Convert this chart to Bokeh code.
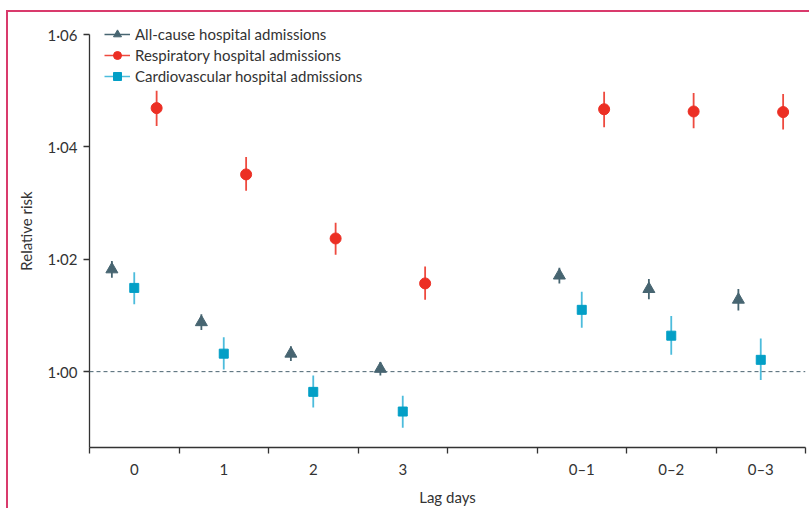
from bokeh.plotting import figure
from bokeh.models import (FixedTicker, CustomJSTickFormatter, Span, Legend, LegendItem, Range1d)
from bokeh.embed import file_html
from bokeh.resources import INLINE

# ---- data ----
lag_labels = ["0", "1", "2", "3", "0\u20131", "0\u20132", "0\u20133"]
lag_slots = [0, 1, 2, 3, 5, 6, 7]          # slot 4 is the empty gap

allcause_rr = [1.0182, 1.0088, 1.0032, 1.0005, 1.0171, 1.0147, 1.0128]
allcause_lo = [1.0167, 1.0074, 1.0019, 0.9993, 1.0157, 1.0129, 1.0109]
allcause_hi = [1.0197, 1.0102, 1.0045, 1.0017, 1.0185, 1.0165, 1.0147]

resp_rr = [1.0469, 1.0351, 1.0237, 1.0157, 1.0467, 1.0463, 1.0462]
resp_lo = [1.0437, 1.0322, 1.0208, 1.0128, 1.0435, 1.0433, 1.0431]
resp_hi = [1.0500, 1.0382, 1.0265, 1.0187, 1.0498, 1.0496, 1.0494]

cardio_rr = [1.0149, 1.0032, 0.9964, 0.9929, 1.0110, 1.0064, 1.0021]
cardio_lo = [1.0120, 1.0004, 0.9936, 0.9900, 1.0078, 1.0030, 0.9985]
cardio_hi = [1.0177, 1.0061, 0.9993, 0.9957, 1.0142, 1.0099, 1.0059]

y_ticks = [1.00, 1.02, 1.04, 1.06]
y_axis_bounds = (0.9865, 1.06)
y_view = (0.9865, 1.06356)   # a little headroom so the legend is not clipped

FONT = "Lato"
FS = "15px"
TXT = "#333333"
C_ALL = "#476571"
C_RESP = "#ec2f24"
C_RESP_L = "#ee4a3f"
C_CARD = "#039fc6"
C_CARD_L = "#4cbcdc"
PINK = "#d93a6c"

p = figure(width=809, height=508, output_backend="svg", toolbar_location=None,
           x_range=Range1d(0, 8), y_range=Range1d(*y_view),
           min_border_left=89, min_border_right=4, min_border_top=14, min_border_bottom=61)
p.outline_line_color = None
p.xgrid.visible = False
p.ygrid.visible = False
p.border_fill_color = None
p.background_fill_color = "white"
# pink page rule along top and left: two stacked inset shadows (white mask over pink)
p.styles = {
    "background-color": "white",
    "box-shadow": f"inset 6px 10px 0 0 white, inset 8px 12px 0 0 {PINK}",
}

centers = [s + 0.5 for s in lag_slots]

def series(offset, rr, lo, hi, marker, size, col, line_col):
    xs = [c + offset for c in centers]
    p.segment(x0=xs, y0=lo, x1=xs, y1=hi, line_color=line_col, line_width=1.8)
    return p.scatter(xs, rr, marker=marker, size=size, fill_color=col, line_color=col)

# reference line
p.add_layout(Span(location=1.0, dimension="width", line_color="#4a6470",
                  line_dash="4 3", line_width=1))

series(-0.25, allcause_rr, allcause_lo, allcause_hi, "triangle", 12, C_ALL, C_ALL)
series(0.0, cardio_rr, cardio_lo, cardio_hi, "square", 9, C_CARD, C_CARD_L)
series(0.25, resp_rr, resp_lo, resp_hi, "circle", 11, C_RESP, C_RESP_L)

# legend proxies (single points placed outside the visible range)
items = []
for lab, mk, sz, col, lcol in [("All-cause hospital admissions", "triangle", 12, C_ALL, C_ALL),
                               ("Respiratory hospital admissions", "circle", 11, C_RESP, C_RESP_L),
                               ("Cardiovascular hospital admissions", "square", 9, C_CARD, C_CARD_L)]:
    lr = p.line(x=[-10, -9], y=[0, 0], line_color=lcol, line_width=1.5)
    sr = p.scatter(x=[-10], y=[0], marker=mk, size=sz, fill_color=col, line_color=col)
    items.append(LegendItem(label=lab, renderers=[lr, sr]))

legend = Legend(items=items, location=(15, 361), padding=0, margin=0,
                spacing=1, label_height=20, glyph_height=20, glyph_width=26,
                label_standoff=5, border_line_color=None, background_fill_alpha=0,
                label_text_font=FONT, label_text_font_size=FS, label_text_color=TXT)
p.add_layout(legend)

# x axis
xa = p.xaxis[0]
xa.ticker = FixedTicker(ticks=centers, minor_ticks=list(range(0, 9)))
xa.major_label_overrides = {c: l for c, l in zip(centers, lag_labels)}
xa.major_tick_out = 0
xa.major_tick_in = 0
xa.minor_tick_out = 6
xa.minor_tick_in = 0
xa.minor_tick_line_color = TXT
xa.minor_tick_line_width = 1.3
xa.axis_line_color = TXT
xa.axis_line_width = 1.3
xa.major_label_text_font = FONT
xa.major_label_text_font_size = FS
xa.major_label_text_color = TXT
xa.major_label_standoff = 6
xa.axis_label = "Lag days"
xa.axis_label_text_font = FONT
xa.axis_label_text_font_size = FS
xa.axis_label_text_font_style = "normal"
xa.axis_label_text_color = TXT
xa.axis_label_standoff = 7

# y axis
ya = p.yaxis[0]
ya.bounds = y_axis_bounds
ya.ticker = FixedTicker(ticks=y_ticks, minor_ticks=[])
ya.formatter = CustomJSTickFormatter(code="return tick.toFixed(2).replace('.', '\u00b7');")
ya.major_tick_out = 6
ya.major_tick_in = 0
ya.major_tick_line_color = TXT
ya.major_tick_line_width = 1.3
ya.axis_line_color = TXT
ya.axis_line_width = 1.3
ya.major_label_text_font = FONT
ya.major_label_text_font_size = FS
ya.major_label_text_color = TXT
ya.major_label_standoff = 6
ya.axis_label = "Relative risk"
ya.axis_label_text_font = FONT
ya.axis_label_text_font_size = FS
ya.axis_label_text_font_style = "normal"
ya.axis_label_text_color = TXT
ya.axis_label_standoff = 10

open("out.html", "w").write(file_html(p, INLINE))
